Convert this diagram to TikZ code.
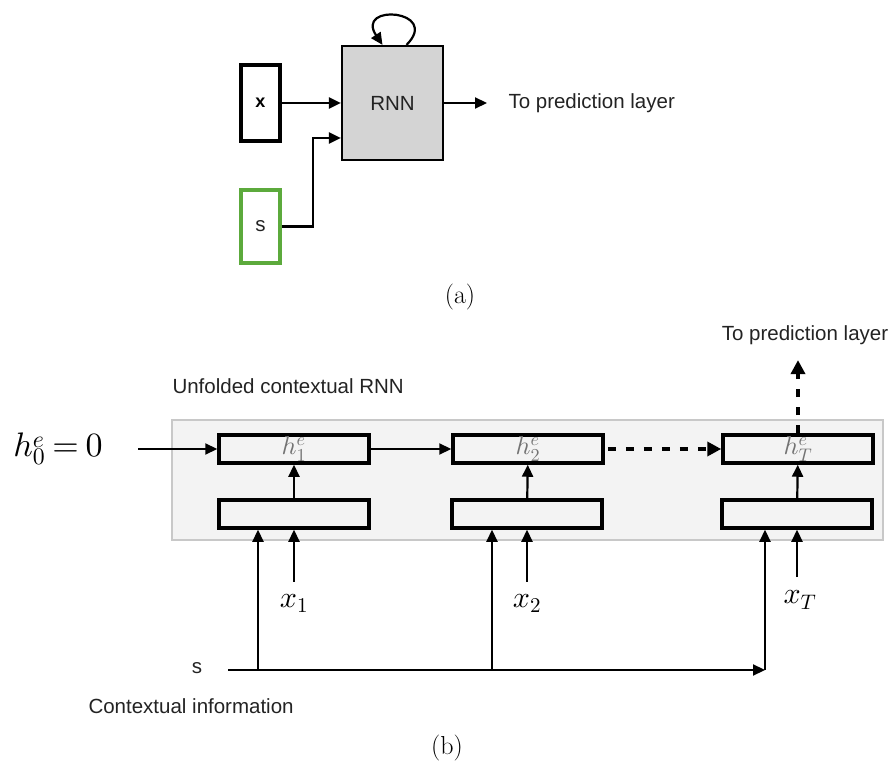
\documentclass[tikz,border=0pt]{standalone}
\usepackage{fontspec}
\setsansfont{Liberation Sans}
\DeclareFontShape{OML}{cmm}{m}{it}{<->cmmi10}{}
\DeclareFontShape{OT1}{cmr}{m}{n}{<->cmr10}{}
\usetikzlibrary{arrows.meta,positioning}
\definecolor{ctxgreen}{RGB}{92,170,60}
\definecolor{rnngray}{RGB}{212,212,212}
\definecolor{framegray}{RGB}{200,200,200}
\definecolor{framefill}{RGB}{243,243,243}
\definecolor{txtgray}{RGB}{35,35,35}
\begin{document}
\begin{tikzpicture}[x=1pt, y=-1pt,
    lbl/.style={font=\sffamily\fontsize{20.5}{24}\selectfont, text=txtgray},
    inbox/.style={draw, line width=3.5pt, minimum width=39pt, inner sep=0pt},
    cell/.style={draw, line width=3.5pt, minimum width=150pt, minimum height=28pt,
      inner sep=0pt, font=\fontsize{26}{28}\selectfont, text=black!55},
    arr/.style={line width=2.2pt, -{Triangle[length=12pt,width=11pt]}},
    dasharr/.style={line width=3.8pt, dash pattern=on 8pt off 10pt,
      -{Triangle[length=14pt,width=14pt]}},
    subcap/.style={font=\fontsize{26}{30}\selectfont},
    mathlbl/.style={font=\fontsize{30}{34}\selectfont}]
  \useasboundingbox (0,0) rectangle (895,767);

  % (a) folded RNN
  \node[inbox, minimum height=76pt, font=\sffamily\bfseries\fontsize{18}{20}\selectfont] (xa) at (260.5,103) {x};
  \node[inbox, draw=ctxgreen, minimum height=73pt, lbl] (sa) at (260.5,226.5) {s};
  \node[draw, line width=2.2pt, fill=rnngray, minimum width=101pt, minimum height=114pt, lbl] (rnn) at (392.5,103) {RNN};
  \node[lbl, anchor=west] (outa) at (505,103) {To prediction layer};
  \node[subcap] (capa) at (460,297) {(a)};
  \draw[arr] (xa) -- (rnn);
  \draw[arr] (sa.east) -- (sa.east -| 313,0) -- (313,138) -- (rnn.west |- 0,138);
  \draw[arr] ([xshift=14pt]rnn.north) .. controls +(35,-35) and +(-28,-42) .. ([xshift=-10pt]rnn.north);
  \draw[arr, shorten >=18pt] (rnn) -- (outa.west);

  % (b) unfolded RNN
  \node[draw=framegray, line width=1.5pt, fill=framefill, minimum width=711pt, minimum height=120pt] (frame) at (527.5,480) {};
  \node[lbl, anchor=west] (title) at (169,386) {Unfolded contextual RNN};
  \node[lbl] (outb) at (805,335) {To prediction layer};
  \node[font=\fontsize{34}{38}\selectfont] (h0) at (58,449) {$h^e_0 = 0$};

  \node[cell] (h1) at (294,449) {$h^e_1$};
  \node[cell] (c1) at (294,514) {};
  \node[cell] (h2) at (528,449) {$h^e_2$};
  \node[cell] (c2) at (527,514) {};
  \node[cell] (hT) at (798,449) {$h^e_T$};
  \node[cell] (cT) at (797,514) {};

  \draw[arr, shorten <=32pt] (h0.east) -- (h1.west);
  \draw[arr] (h1) -- (h2);
  \draw[dasharr, shorten <=3pt] (h2) -- (hT);
  \draw[dasharr, shorten >=12pt] (hT) -- (outb.south -| hT);
  \foreach \i in {1,2,T}
    \draw[arr] (c\i) -- (h\i);

  % inputs
  \node[mathlbl] (x1) at (294,604) {$x_1$};
  \node[mathlbl] (x2) at (527,604) {$x_2$};
  \node[mathlbl] (xT) at (800,600) {$x_T$};
  \draw[arr, shorten <=10pt] (x1.north) -- (c1);
  \draw[arr, shorten <=10pt] (x2.north) -- (c2);
  \draw[arr, shorten <=10pt] (xT.north -| cT) -- (cT);

  % context
  \node[lbl] (sb) at (197,668) {s};
  \node[lbl, anchor=west] (ctx) at (85,706) {Contextual information};
  \node[subcap] (capb) at (447,748) {(b)};
  \coordinate (s0) at (228,670);
  \coordinate (s1) at (258,670);
  \coordinate (s2) at (492,670);
  \coordinate (sT) at (765,670);
  \draw[arr] (s0) -- (sT);
  \draw[arr] (s1) -- (c1.south -| s1);
  \draw[arr] (s2) -- (c2.south -| s2);
  \draw[arr] (sT) -- (cT.south -| sT);
\end{tikzpicture}
\end{document}
